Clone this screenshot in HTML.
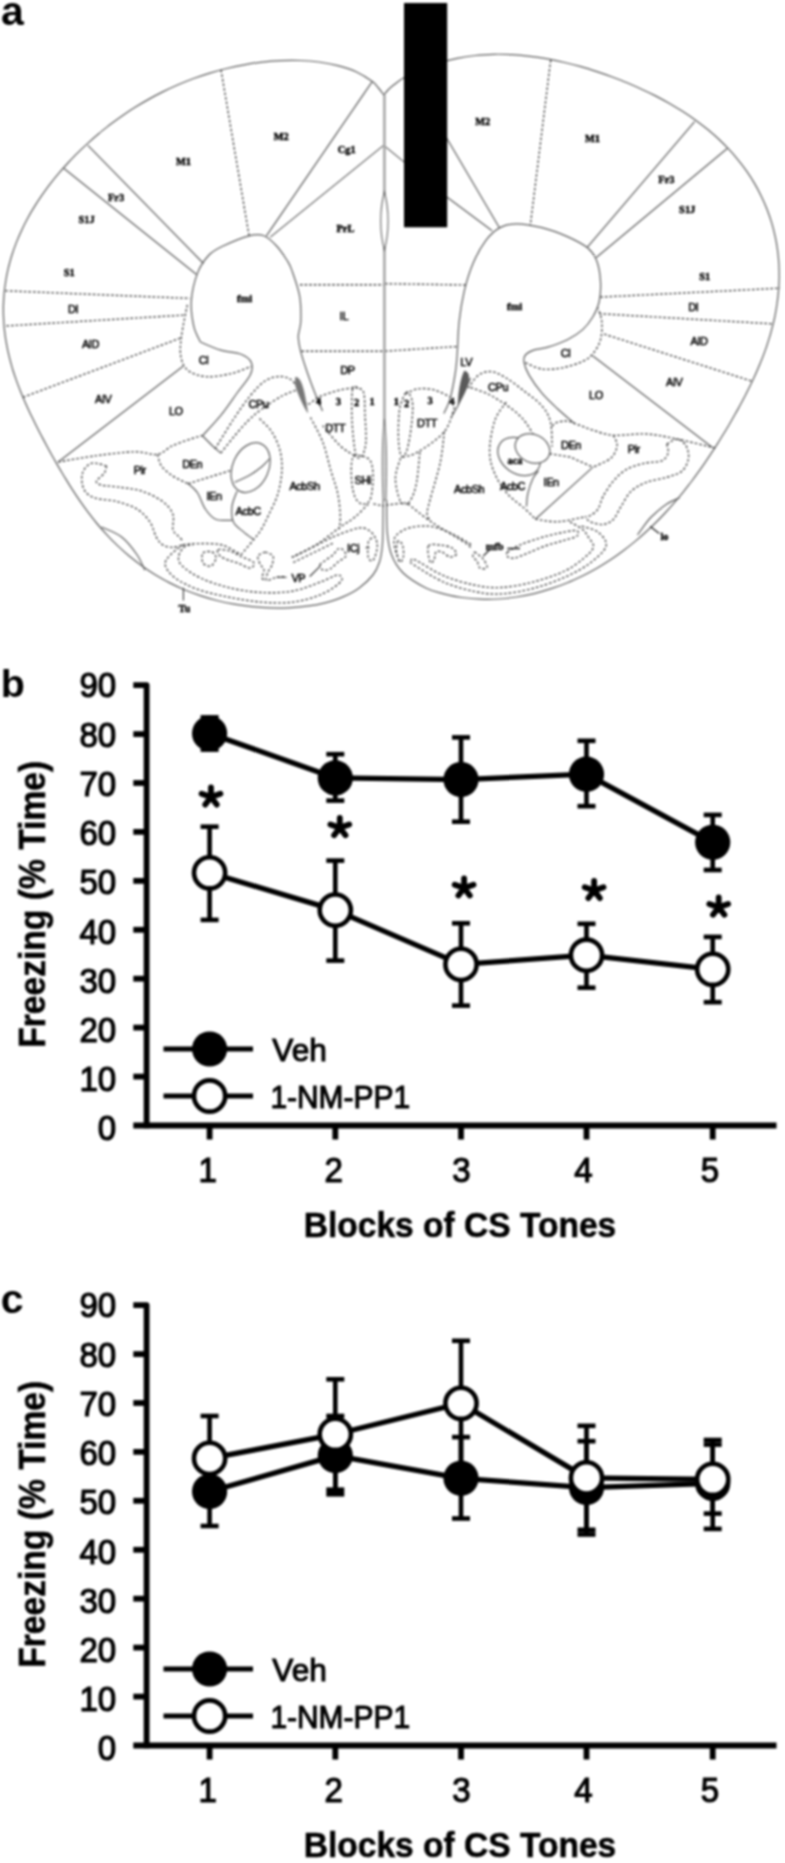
<!DOCTYPE html>
<html><head><meta charset="utf-8"><title>Figure</title>
<style>
html,body{margin:0;padding:0;background:#fff;}
body{width:785px;height:1863px;overflow:hidden;font-family:"Liberation Sans",sans-serif;}
svg{display:block;font-family:"Liberation Sans",sans-serif;filter:blur(0.8px);}
</style></head><body>
<svg width="785" height="1863" viewBox="0 0 785 1863">
<rect width="785" height="1863" fill="#fff"/>
<!-- panel a -->
<text x="1" y="25.2" font-size="41" font-weight="bold">a</text>
<defs><filter id="bb" x="-2%" y="-2%" width="104%" height="104%"><feGaussianBlur stdDeviation="0.5"/></filter></defs>
<g>
<g fill="none" stroke="#5e5e5e" stroke-width="1.22" stroke-linecap="butt" stroke-linejoin="round">
<path d="M383.8 95.0C382.9 93.8 380.4 90.2 378.5 88.0C376.6 85.8 376.1 84.3 372.4 81.6C368.7 78.9 361.9 74.4 356.1 71.7C350.3 69.0 344.0 67.2 337.8 65.6C331.6 64.0 325.2 62.9 318.9 62.0C312.6 61.2 306.1 60.7 299.8 60.5C293.4 60.2 287.1 60.3 280.8 60.6C274.6 60.9 268.4 61.4 262.2 62.1C256.1 62.8 250.1 63.7 244.2 64.8C238.2 65.8 232.4 67.1 226.7 68.5C220.9 69.9 215.3 71.4 209.8 73.1C204.3 74.8 198.9 76.6 193.6 78.5C188.3 80.5 183.1 82.6 178.0 84.7C172.9 86.9 168.0 89.2 163.2 91.6C158.3 94.0 153.6 96.5 149.0 99.1C144.4 101.6 139.9 104.3 135.5 107.1C131.1 109.8 126.9 112.6 122.7 115.5C118.5 118.4 114.5 121.3 110.5 124.3C106.6 127.4 102.7 130.4 99.0 133.5C95.2 136.7 91.6 139.8 88.0 143.1C84.5 146.3 81.0 149.6 77.7 152.9C74.3 156.2 71.1 159.6 67.9 163.0C64.7 166.4 61.7 169.9 58.7 173.4C55.7 176.9 52.8 180.5 50.0 184.1C47.2 187.7 44.6 191.4 42.0 195.1C39.4 198.8 36.9 202.6 34.6 206.4C32.2 210.2 29.9 214.1 27.8 218.0C25.7 221.9 23.6 225.9 21.8 229.9C19.9 233.9 18.1 238.0 16.5 242.1C14.9 246.2 13.4 250.4 12.1 254.5C10.7 258.7 9.6 263.0 8.5 267.2C7.5 271.4 6.6 275.7 5.9 280.0C5.2 284.3 4.6 288.6 4.2 292.9C3.8 297.2 3.5 301.5 3.4 305.8C3.3 310.1 3.4 314.4 3.6 318.7C3.8 322.9 4.1 327.2 4.6 331.4C5.1 335.6 5.7 339.8 6.5 343.9C7.2 348.0 8.1 352.1 9.1 356.2C10.0 360.2 11.2 364.2 12.3 368.2C13.5 372.1 14.8 376.0 16.2 379.9C17.5 383.7 19.0 387.5 20.5 391.3C22.0 395.0 23.6 398.8 25.2 402.5C26.8 406.1 28.5 409.8 30.2 413.4C32.0 417.0 33.7 420.6 35.5 424.2C37.3 427.8 39.1 431.4 41.0 435.0C42.9 438.6 44.8 442.1 46.7 445.7C48.6 449.3 50.6 452.9 52.6 456.5C54.6 460.1 56.7 463.7 58.8 467.4C61.0 471.0 63.1 474.7 65.4 478.4C67.6 482.1 69.9 485.8 72.4 489.6C74.8 493.3 77.3 497.1 79.9 500.9C82.5 504.6 85.2 508.4 88.0 512.2C90.9 516.0 93.8 519.7 96.9 523.5C100.0 527.2 103.3 530.9 106.7 534.6C110.0 538.3 113.6 541.9 117.3 545.4C121.0 548.9 124.8 552.4 128.9 555.8C132.9 559.1 137.0 562.4 141.4 565.5C145.7 568.6 150.2 571.7 154.8 574.5C159.5 577.3 164.3 580.1 169.2 582.6C174.1 585.1 179.2 587.5 184.4 589.7C189.6 591.8 194.9 593.8 200.3 595.6C205.7 597.4 211.3 599.1 216.9 600.5C222.6 601.9 228.3 603.1 234.1 604.2C239.9 605.2 245.8 606.0 251.8 606.7C257.8 607.3 263.8 607.7 269.9 607.9C276.0 608.1 282.1 608.1 288.3 607.8C294.4 607.6 300.7 607.1 306.8 606.2C313.0 605.4 319.2 604.3 325.2 602.8C331.2 601.2 337.3 599.4 342.9 596.9C348.6 594.4 354.2 591.6 359.2 587.9C364.2 584.3 369.5 579.3 372.9 575.0C376.3 570.7 377.9 566.8 379.5 562.0C381.1 557.2 381.7 552.3 382.3 546.0C382.9 539.7 382.9 531.7 383.0 524.0C383.1 516.3 383.2 504.0 383.2 500.0"/>
<path d="M383.8 95.0C384.5 94.2 386.5 91.6 388.0 90.0C389.5 88.4 390.3 87.7 393.0 85.6C395.7 83.5 399.5 80.2 404.2 77.5C408.9 74.8 415.5 71.8 421.3 69.4C427.0 67.0 433.0 64.8 438.9 62.9C444.9 61.1 451.0 59.6 457.1 58.3C463.2 57.1 469.4 56.2 475.5 55.5C481.6 54.8 487.8 54.5 493.9 54.3C500.1 54.2 506.2 54.3 512.2 54.7C518.2 55.0 524.2 55.5 530.1 56.3C536.0 57.0 541.8 57.9 547.6 58.9C553.3 60.0 559.0 61.2 564.6 62.5C570.1 63.8 575.6 65.2 581.0 66.7C586.4 68.2 591.7 69.9 596.9 71.6C602.1 73.3 607.2 75.1 612.3 77.0C617.3 78.9 622.3 80.8 627.1 82.8C632.0 84.9 636.8 87.0 641.6 89.2C646.3 91.3 651.0 93.6 655.5 95.9C660.1 98.3 664.6 100.7 669.1 103.2C673.5 105.8 677.8 108.4 682.1 111.1C686.3 113.8 690.5 116.6 694.6 119.5C698.6 122.4 702.6 125.5 706.5 128.6C710.4 131.7 714.1 135.0 717.8 138.3C721.4 141.7 724.9 145.1 728.3 148.7C731.7 152.3 734.9 156.0 738.0 159.8C741.1 163.5 744.0 167.4 746.8 171.4C749.6 175.4 752.2 179.5 754.6 183.6C757.1 187.8 759.3 192.1 761.4 196.4C763.5 200.7 765.4 205.1 767.1 209.5C768.8 213.9 770.4 218.4 771.7 222.9C773.1 227.4 774.2 232.0 775.2 236.6C776.2 241.1 777.0 245.7 777.6 250.3C778.2 254.8 778.6 259.4 778.9 264.0C779.1 268.5 779.2 273.1 779.2 277.5C779.1 282.0 778.9 286.5 778.5 290.9C778.2 295.3 777.6 299.7 777.0 304.0C776.4 308.3 775.6 312.6 774.8 316.8C773.9 320.9 772.9 325.1 771.8 329.1C770.8 333.2 769.6 337.2 768.3 341.1C767.1 345.0 765.8 348.9 764.4 352.6C763.0 356.4 761.5 360.2 760.0 363.8C758.5 367.5 757.0 371.1 755.4 374.6C753.8 378.2 752.1 381.6 750.5 385.1C748.8 388.5 747.1 391.9 745.4 395.3C743.6 398.6 741.9 402.0 740.1 405.3C738.3 408.5 736.5 411.8 734.6 415.0C732.8 418.3 730.9 421.5 729.1 424.7C727.2 427.9 725.3 431.1 723.3 434.3C721.4 437.5 719.4 440.7 717.4 443.9C715.3 447.1 713.3 450.2 711.2 453.4C709.1 456.6 706.9 459.8 704.7 463.1C702.5 466.3 700.2 469.5 697.9 472.7C695.6 476.0 693.2 479.2 690.7 482.5C688.2 485.7 685.7 489.0 683.0 492.3C680.4 495.5 677.7 498.8 674.8 502.1C672.0 505.4 669.1 508.7 666.0 512.0C663.0 515.2 659.9 518.5 656.6 521.8C653.3 525.1 649.9 528.3 646.4 531.5C642.9 534.8 639.2 538.0 635.4 541.1C631.6 544.3 627.7 547.4 623.6 550.4C619.5 553.5 615.3 556.5 610.9 559.4C606.5 562.3 602.0 565.1 597.3 567.9C592.6 570.6 587.8 573.2 582.8 575.7C577.8 578.1 572.7 580.5 567.4 582.7C562.1 584.9 556.7 586.9 551.2 588.7C545.6 590.5 540.0 592.2 534.2 593.6C528.4 595.0 522.5 596.1 516.6 597.0C510.7 597.9 504.6 598.6 498.5 599.0C492.4 599.3 486.3 599.4 480.2 599.1C474.0 598.9 467.9 598.3 461.8 597.5C455.7 596.6 449.5 595.4 443.6 593.8C437.6 592.2 432.7 591.5 425.9 588.0C419.1 584.5 408.6 578.2 402.9 572.7C397.2 567.2 394.1 561.6 391.5 554.8C388.9 548.0 388.0 541.0 387.2 531.9C386.4 522.8 386.7 505.3 386.6 500.0"/>
<path d="M87.9 145.4L203.5 263.5"/>
<path d="M63.7 168.3L196.5 274.5"/>
<path d="M372.2 81.7L266.4 235.8"/>
<path d="M383.6 145.4L270.3 237.1"/>
<path d="M183.4 365.9L58.2 462.0"/>
<path d="M200.4 342.0C203.8 343.4 214.0 348.1 220.8 350.2C227.6 352.2 236.0 352.3 241.1 354.3C246.2 356.3 249.8 359.0 251.3 362.4C252.8 365.8 252.7 369.6 250.3 374.7C247.9 379.8 242.0 386.2 237.1 393.0C232.2 399.8 226.6 408.3 220.8 415.4C215.0 422.5 205.5 432.4 202.4 435.8"/>
<path d="M200.4 342.0C199.3 339.4 195.3 333.2 193.8 326.4C192.3 319.6 190.7 309.9 191.3 301.0C191.9 292.1 194.7 280.6 197.6 272.9C200.5 265.2 204.8 259.5 209.0 255.0C213.2 250.5 216.4 249.2 223.1 246.0C229.8 242.8 242.3 237.5 249.1 235.8C255.9 234.1 259.3 234.1 263.9 235.8C268.5 237.5 272.8 242.0 276.6 246.0C280.4 250.0 284.2 255.9 286.8 260.0C289.4 264.1 289.8 264.4 291.9 270.4C294.0 276.4 298.1 287.4 299.6 295.9C301.1 304.4 301.0 314.5 300.8 321.3C300.6 328.1 298.3 331.5 298.3 336.6C298.3 341.7 299.3 345.9 300.8 351.9C302.3 357.8 304.9 365.5 307.2 372.3C309.5 379.1 312.2 386.2 314.8 392.7C317.4 399.1 321.2 407.9 322.5 411.0"/>
<path d="M202.4 435.8L212.6 446.0L220.8 453.1"/>
<path d="M237.1 491.1C236.2 493.7 232.6 501.3 232.0 506.4C231.4 511.5 231.4 517.5 233.3 521.7C235.2 526.0 240.1 528.9 243.5 531.9C246.9 534.9 252.0 538.3 253.7 539.6"/>
<path d="M234.6 482.4C237.2 481.2 245.4 477.6 250.0 475.0C254.6 472.4 258.7 469.2 262.0 466.5C265.3 463.8 268.5 459.9 269.8 458.6"/>
<path d="M188.2 483.7C189.8 485.2 194.8 488.8 197.6 493.0C200.4 497.2 202.3 504.6 205.3 509.0C208.3 513.4 211.1 517.3 215.5 519.2C219.9 521.1 229.2 520.2 232.0 520.4"/>
<path d="M101.5 527.0C104.9 528.7 116.0 532.5 121.9 537.2C127.9 541.9 133.4 549.5 137.2 555.0C141.0 560.5 143.5 567.8 144.8 570.3"/>
<path d="M436.0 120.0L499.7 228.2"/>
<path d="M383.8 145.4L447.5 197.6L492.1 230.7"/>
<path d="M694.6 121.6L587.0 247.6"/>
<path d="M727.5 148.2L596.0 257.8"/>
<path d="M592.6 355.7L712.4 447.5"/>
<path d="M443.8 413.6C444.9 411.1 448.3 405.1 450.2 398.3C452.1 391.5 454.1 380.5 455.3 372.9C456.5 365.3 456.7 361.0 457.3 352.5C457.9 344.0 458.0 332.1 459.1 321.9C460.2 311.7 461.9 301.1 464.2 291.3C466.5 281.5 469.5 271.8 473.1 263.3C476.7 254.8 481.4 246.4 485.9 240.4C490.4 234.4 494.8 230.4 499.9 227.6C505.0 224.8 509.4 223.8 516.4 223.8C523.4 223.8 533.4 225.5 541.9 227.6C550.4 229.7 559.8 233.2 567.4 236.6C575.0 240.0 582.9 244.0 587.8 248.0C592.7 252.0 594.6 255.3 596.7 260.8C598.8 266.3 600.1 274.3 600.5 281.1C600.9 287.9 600.5 295.6 599.2 301.5C597.9 307.4 595.6 312.1 592.9 316.8C590.1 321.5 587.0 325.8 582.7 329.6C578.5 333.4 573.4 336.7 567.4 339.7C561.4 342.7 552.5 345.7 547.0 347.4C541.5 349.1 537.9 348.6 534.3 349.9C530.7 351.2 527.1 352.9 525.4 355.0C523.7 357.1 523.5 359.3 524.1 362.7C524.7 366.1 526.2 370.3 529.2 375.4C532.2 380.5 537.2 387.7 541.9 393.2C546.6 398.7 551.7 403.4 557.2 408.5C562.7 413.6 572.0 421.4 575.0 424.0"/>
<path d="M470.6 378.0L457.8 406.0L452.0 416.0"/>
<path d="M526.5 506.4C526.7 504.3 526.7 498.4 527.8 493.7C528.9 489.0 531.1 482.2 532.9 478.4C534.7 474.6 537.6 472.2 538.5 471.0"/>
<path d="M535.4 519.2L592.9 467.1"/>
<path d="M679.6 497.7C677.5 498.8 671.5 500.9 666.8 504.1C662.1 507.3 655.8 512.5 651.5 516.8C647.2 521.0 643.6 526.6 641.3 529.6C639.0 532.6 638.1 534.1 637.5 535.0"/>
</g>
<g fill="none" stroke="#404040" stroke-width="1.35" stroke-dasharray="2.6 2">
<path d="M221.0 69.9L249.1 235.8"/>
<path d="M5.4 290.8L189.8 298.4"/>
<path d="M6.4 325.9L186.0 315.0"/>
<path d="M22.9 397.3L180.9 337.9"/>
<path d="M300.0 284.7L384.0 284.7"/>
<path d="M301.5 351.2L384.0 351.2"/>
<path d="M187.3 304.8C186.3 310.1 182.5 327.9 181.4 336.6C180.3 345.3 179.8 351.3 180.9 357.0C182.0 362.7 183.9 367.3 188.2 370.6C192.5 373.9 199.4 376.2 206.5 376.7C213.6 377.2 223.5 375.3 231.0 373.6C238.5 371.9 247.9 367.7 251.3 366.5"/>
<path d="M215.0 449.0C218.0 444.2 227.2 428.8 233.0 420.0C238.8 411.2 244.7 402.5 250.0 396.0C255.3 389.5 260.2 384.2 265.0 381.0C269.8 377.8 274.8 376.8 279.0 376.5C283.2 376.2 287.0 377.4 290.0 379.0C293.0 380.6 295.8 384.8 297.0 386.0"/>
<path d="M220.8 453.1C222.8 450.6 228.6 443.1 233.0 437.8C237.4 432.5 242.6 426.2 247.3 421.5C252.1 416.8 255.7 413.6 261.5 409.3C267.3 405.1 275.8 399.3 281.9 396.0C288.0 392.7 295.3 390.6 298.0 389.5"/>
<path d="M259.5 418.5C261.5 420.7 268.3 426.4 271.7 431.7C275.1 437.0 278.2 443.7 279.9 450.1C281.6 456.6 282.2 463.1 281.9 470.4C281.6 477.7 280.0 486.4 277.9 493.7C275.8 501.0 271.8 508.2 269.0 514.1C266.2 520.1 263.9 525.1 261.3 529.4C258.8 533.6 257.1 535.4 253.7 539.6C250.3 543.8 243.1 552.3 241.0 554.8"/>
<path d="M58.2 462.0C64.6 460.9 83.7 457.4 96.4 455.7C109.1 454.0 124.4 452.0 134.6 451.8C144.8 451.6 151.2 455.4 157.6 454.4C164.0 453.3 166.1 448.5 172.9 445.5C179.7 442.5 193.4 438.2 198.3 436.6C203.2 435.0 201.7 435.9 202.4 435.8"/>
<path d="M157.6 454.4C158.2 456.3 158.8 462.3 161.4 465.9C164.0 469.5 168.4 473.1 172.9 476.1C177.4 479.1 185.6 482.4 188.2 483.7"/>
<path d="M188.2 483.7L231.0 470.4"/>
<path d="M106.6 465.9C104.0 465.5 95.3 462.0 91.3 463.3C87.3 464.6 83.7 469.2 82.4 473.5C81.1 477.8 81.8 484.8 83.7 488.8C85.6 492.8 88.4 495.6 93.9 497.7C99.4 499.8 109.6 499.6 116.8 501.5C124.0 503.4 131.7 505.8 137.2 509.2C142.7 512.6 146.7 517.2 149.9 521.9C153.1 526.6 154.2 533.4 156.3 537.2C158.4 541.0 159.9 543.1 162.7 544.8C165.5 546.5 169.5 547.4 172.9 547.4C176.3 547.4 181.4 545.2 183.1 544.8"/>
<path d="M106.6 465.9C106.2 467.2 105.8 471.0 104.1 473.5C102.4 476.0 96.8 479.2 96.4 481.1C96.0 483.0 97.2 483.9 101.5 485.0C105.8 486.1 115.1 486.4 121.9 487.5C128.7 488.6 135.5 489.0 142.3 491.3C149.1 493.6 157.6 497.7 162.7 501.5C167.8 505.3 171.2 509.6 172.9 514.3C174.6 519.0 172.1 526.0 172.9 529.6C173.8 533.2 176.3 534.0 178.0 535.9C179.7 537.8 182.2 540.1 183.1 541.0"/>
<path d="M183.1 544.8C181.0 546.5 173.3 551.6 170.3 555.0C167.3 558.4 164.3 561.3 165.2 565.2C166.1 569.1 170.1 574.2 175.5 578.2C180.9 582.2 188.8 586.2 197.8 589.4C206.8 592.6 219.0 595.2 229.6 597.3C240.2 599.4 250.9 601.3 261.5 602.1C272.1 602.9 283.2 603.4 293.3 602.1C303.4 600.8 314.1 597.6 322.0 594.1C329.9 590.6 338.4 584.6 341.0 581.4C343.6 578.2 341.1 575.0 337.9 575.0C334.7 575.0 329.4 578.7 322.0 581.4C314.6 584.1 303.4 589.1 293.3 591.0C283.2 592.9 272.1 593.0 261.5 592.5C250.9 592.0 239.7 590.2 229.6 587.8C219.5 585.4 209.0 581.9 201.0 578.2C193.0 574.5 185.5 569.2 181.8 565.5C178.1 561.8 178.2 559.1 178.7 555.9C179.2 552.7 182.6 548.2 185.0 546.4C187.4 544.5 191.8 545.1 193.2 544.8"/>
<path d="M183.1 544.8C185.6 544.6 191.8 543.6 198.3 543.6C204.8 543.6 214.9 543.1 222.0 545.0C229.1 546.9 237.8 553.2 241.0 554.8"/>
<path d="M203.0 553.0C204.5 551.2 209.8 551.2 212.0 552.0C214.2 552.8 216.2 555.7 216.0 558.0C215.8 560.3 213.2 565.2 211.0 566.0C208.8 566.8 204.3 565.2 203.0 563.0C201.7 560.8 201.5 554.8 203.0 553.0Z"/>
<path d="M218.0 549.7C219.7 548.9 226.3 550.0 230.0 551.0C233.7 552.0 236.1 554.1 240.0 556.0C243.9 557.9 252.0 560.5 253.7 562.5C255.4 564.5 252.6 567.9 250.0 568.0C247.4 568.1 241.7 564.3 238.0 563.0C234.3 561.7 231.0 561.2 228.0 560.0C225.0 558.8 221.7 557.7 220.0 556.0C218.3 554.3 216.3 550.5 218.0 549.7Z"/>
<path d="M265.2 552.0C266.5 552.7 271.9 553.8 273.0 556.0C274.1 558.2 272.8 562.3 272.0 565.0C271.2 567.7 268.9 569.5 268.0 572.0C267.1 574.5 265.0 579.4 266.4 580.3C267.8 581.2 273.3 577.9 276.6 577.3C279.9 576.7 284.4 576.6 286.0 576.5"/>
<path d="M265.2 552.0C264.0 552.7 258.9 554.0 258.0 556.0C257.1 558.0 259.0 561.7 260.0 564.0C261.0 566.3 263.7 567.7 264.0 570.0C264.3 572.3 261.6 576.3 262.0 578.0C262.4 579.7 265.7 579.9 266.4 580.3"/>
<path d="M319.9 565.0C320.4 563.3 323.8 561.7 326.0 560.0C328.2 558.3 331.0 556.8 333.0 555.0C335.0 553.2 336.4 549.9 338.0 549.0C339.6 548.1 341.6 548.5 342.9 549.7C344.2 550.9 346.8 554.0 346.0 556.0C345.2 558.0 340.7 559.8 338.0 562.0C335.3 564.2 332.5 567.7 330.0 569.0C327.5 570.3 324.7 570.7 323.0 570.0C321.3 569.3 319.4 566.7 319.9 565.0Z"/>
<path d="M291.9 557.4L332.7 537.0"/>
<path d="M293.2 562.5L332.7 543.4"/>
<path d="M332.7 537.0C336.9 535.5 351.8 529.0 358.2 528.1C364.6 527.2 367.7 529.1 370.9 531.9C374.1 534.6 376.9 539.9 377.3 544.6C377.7 549.3 374.9 557.8 373.4 559.9C371.9 562.0 369.1 560.4 368.3 557.4C367.5 554.4 367.5 545.5 368.3 542.1C369.1 538.7 372.5 537.9 373.4 537.0"/>
<path d="M310.5 417.5C312.5 421.6 319.3 433.1 322.7 441.9C326.1 450.7 328.3 461.8 330.8 470.4C333.3 479.0 336.2 486.0 337.8 493.7C339.4 501.4 340.1 510.7 340.3 516.6C340.5 522.6 339.2 527.3 339.0 529.4"/>
<path d="M368.3 503.9C366.1 506.1 359.7 513.1 355.0 517.0C350.3 520.9 346.8 522.3 340.3 527.0C333.8 531.7 324.1 539.9 316.0 545.0C307.9 550.1 295.9 555.3 291.9 557.4"/>
<path d="M298.0 389.5C299.5 391.9 303.6 402.7 307.0 404.0C310.4 405.3 313.7 399.3 318.6 397.1C323.5 394.9 330.6 392.5 336.3 391.0C342.0 389.5 348.5 388.2 352.6 387.9C356.7 387.5 359.4 388.7 360.8 388.9"/>
<path d="M322.7 425.6C325.6 429.0 334.9 440.9 340.4 446.0C345.9 451.1 353.1 454.5 355.7 456.2"/>
<path d="M352.6 388.9C351.6 394.2 351.5 409.1 352.0 420.0C352.5 430.9 354.1 448.1 355.7 454.1C357.3 460.1 360.1 458.2 361.8 456.2C363.5 454.2 365.4 448.8 365.9 441.9C366.4 435.0 365.4 423.1 365.0 415.0C364.6 406.9 365.0 397.5 363.8 393.0C362.6 388.5 359.9 388.7 358.0 388.0C356.1 387.3 353.6 383.6 352.6 388.9Z"/>
<path d="M352.6 458.2C350.9 462.2 351.2 473.5 351.6 480.0C352.0 486.5 353.3 493.0 355.0 497.0C356.7 501.0 359.5 503.5 362.0 504.0C364.5 504.5 368.2 504.0 370.0 500.0C371.8 496.0 372.8 486.3 373.0 480.0C373.2 473.7 372.8 466.0 371.0 462.0C369.2 458.0 365.1 456.6 362.0 456.0C358.9 455.4 354.3 454.2 352.6 458.2Z"/>
<path d="M373.4 503.9L384.0 506.0"/>
<path d="M550.7 60.0L530.3 225.6"/>
<path d="M600.3 297.1L779.9 288.2"/>
<path d="M599.0 313.7L773.5 323.9"/>
<path d="M604.1 334.1L751.9 381.2"/>
<path d="M385.0 283.7L466.8 285.0"/>
<path d="M385.0 351.2L457.3 346.5"/>
<path d="M468.0 388.2C469.7 386.1 474.4 378.2 478.2 375.4C482.0 372.6 486.3 371.2 491.0 371.6C495.7 372.0 500.7 374.8 506.2 378.0C511.7 381.2 518.1 386.4 524.1 391.0C530.1 395.6 537.5 400.7 541.9 405.9C546.3 411.1 548.8 415.2 550.5 422.0C552.2 428.8 551.8 442.5 552.1 446.6"/>
<path d="M470.6 387.5C473.5 388.6 482.5 391.4 488.0 394.0C493.5 396.6 498.7 400.0 503.7 403.3C508.7 406.6 514.2 410.6 518.0 414.0C521.8 417.4 523.9 420.0 526.6 423.7C529.3 427.4 533.0 434.3 534.3 436.4"/>
<path d="M525.4 362.7C528.1 363.8 535.8 368.1 541.9 369.0C548.0 369.9 555.5 369.1 562.3 367.8C569.1 366.5 577.6 363.7 582.7 361.4C587.8 359.1 589.9 357.4 592.9 353.8C595.9 350.2 599.0 345.0 600.5 339.7C602.0 334.4 602.2 327.2 601.8 321.9C601.4 316.6 598.6 310.2 598.0 307.9"/>
<path d="M405.6 394.0C407.6 393.1 413.1 389.6 417.8 388.9C422.6 388.2 428.7 388.5 434.1 389.9C439.6 391.3 447.8 395.9 450.5 397.1"/>
<path d="M454.5 407.3C452.8 411.4 450.4 424.2 444.3 431.7C438.2 439.2 424.9 447.9 417.8 452.1C410.7 456.4 404.2 456.4 401.5 457.2"/>
<path d="M405.6 393.0C403.9 395.5 400.7 402.2 399.5 410.0C398.3 417.8 398.2 432.3 398.5 440.0C398.8 447.7 400.1 454.5 401.5 456.2C402.9 457.9 405.3 455.2 407.0 450.0C408.7 444.8 410.6 432.5 411.5 425.0C412.4 417.5 412.9 410.0 412.7 405.0C412.4 400.0 411.2 397.0 410.0 395.0C408.8 393.0 407.4 390.5 405.6 393.0Z"/>
<path d="M444.3 431.7C443.6 436.8 442.7 450.9 440.3 462.3C437.9 473.7 432.2 491.4 430.0 500.0C427.8 508.6 426.9 510.5 427.1 514.1C427.3 517.7 430.4 520.4 431.0 521.7"/>
<path d="M419.9 452.1C419.4 456.8 418.1 472.9 417.0 480.0C415.9 487.1 414.6 491.0 413.1 495.0C411.6 499.0 408.9 502.4 408.0 503.9"/>
<path d="M400.5 458.2C399.6 461.6 395.4 471.4 395.4 478.6C395.4 485.8 398.3 497.1 400.4 501.3C402.5 505.5 406.7 503.5 408.0 503.9"/>
<path d="M386.0 505.2L405.5 502.6"/>
<path d="M408.0 503.9C411.8 506.9 421.6 515.3 431.0 521.7C440.4 528.1 457.3 537.6 464.1 542.1C470.9 546.6 470.4 547.4 471.7 548.5"/>
<path d="M506.2 402.2C504.3 405.2 497.8 412.0 495.0 420.0C492.2 428.0 489.7 441.5 489.6 450.4C489.5 459.3 491.6 466.1 494.6 473.3C497.6 480.5 502.3 487.8 507.4 493.7C512.5 499.6 520.5 504.8 525.2 509.0C529.9 513.2 533.7 517.5 535.4 519.2"/>
<path d="M535.4 519.2C539.2 519.6 550.0 522.1 558.3 521.7C566.6 521.3 580.8 517.6 585.3 516.8"/>
<path d="M552.0 426.0C552.9 425.4 554.6 423.2 557.2 422.4C559.8 421.6 563.8 420.7 567.4 421.1C571.0 421.5 574.6 423.5 578.9 425.0C583.1 426.5 587.2 428.4 592.9 430.1C598.6 431.8 604.4 434.7 613.3 435.3C622.2 435.9 635.8 433.4 646.4 434.0C657.0 434.6 665.5 436.8 677.0 439.1C688.5 441.4 708.8 446.5 715.2 448.0"/>
<path d="M613.3 435.3C613.9 437.0 617.5 441.7 617.1 445.5C616.7 449.3 614.8 454.6 610.8 458.2C606.8 461.8 595.9 465.6 592.9 467.1"/>
<path d="M545.0 453.0L570.0 457.0L592.9 467.1"/>
<path d="M666.8 444.2C668.5 443.4 673.8 438.9 677.0 439.1C680.2 439.3 684.0 442.3 685.9 445.5C687.8 448.7 689.1 453.9 688.5 458.2C687.9 462.4 685.7 467.8 682.1 471.0C678.5 474.2 672.8 475.4 666.8 477.3C660.8 479.2 652.3 480.1 646.4 482.4C640.5 484.7 635.3 487.3 631.1 491.3C626.9 495.3 624.0 501.9 621.0 506.6C618.0 511.3 616.3 516.4 613.3 519.4C610.3 522.4 606.9 524.1 603.1 524.5C599.3 524.9 593.4 523.2 590.4 521.9C587.4 520.6 586.1 517.6 585.3 516.8"/>
<path d="M666.8 444.2C667.0 445.7 669.0 450.3 668.1 453.1C667.2 455.9 665.7 459.1 661.7 460.8C657.7 462.5 649.8 461.8 643.9 463.3C638.0 464.8 631.2 466.7 626.1 469.7C621.0 472.7 617.1 476.7 613.3 481.1C609.5 485.6 605.6 491.7 603.1 496.4C600.6 501.1 600.1 506.0 598.0 509.2C595.9 512.4 592.5 514.2 590.4 515.5C588.3 516.8 586.1 516.6 585.3 516.8"/>
<path d="M570.0 521.9C572.1 523.2 579.6 527.0 582.7 529.6C585.8 532.2 586.8 534.6 588.6 537.5C590.4 540.4 594.2 543.6 593.4 547.1C592.6 550.6 588.6 554.2 583.8 558.2C579.0 562.2 573.2 567.0 564.7 571.0C556.2 575.0 543.5 579.4 532.9 582.1C522.3 584.9 510.6 587.0 501.0 587.5C491.4 588.0 485.1 587.3 475.5 585.3C465.9 583.3 453.8 580.0 443.7 575.7C433.6 571.5 420.4 562.1 415.0 559.8C409.6 557.5 411.3 561.2 411.0 562.0C410.7 562.8 407.9 561.2 413.4 564.6C418.8 568.0 433.3 577.6 443.7 582.1C454.1 586.6 465.9 589.7 475.5 591.7C485.1 593.7 491.4 594.4 501.0 593.9C510.6 593.4 522.3 591.3 532.9 588.5C543.5 585.7 555.2 581.5 564.7 577.3C574.2 573.0 583.3 568.2 590.2 563.0C597.1 557.8 604.8 551.1 606.1 546.0C607.4 540.9 602.3 535.5 598.0 532.1C593.7 528.7 583.2 526.8 580.2 525.7"/>
<path d="M399.1 561.4C398.3 558.8 394.8 549.8 394.3 545.5C393.8 541.2 393.5 538.8 395.9 535.9C398.3 533.0 402.8 529.6 408.7 528.0C414.6 526.4 423.6 525.4 431.0 526.4C438.4 527.4 446.3 531.1 453.2 534.3C460.1 537.5 469.2 543.6 472.4 545.5"/>
<path d="M398.0 541.0C397.0 542.0 396.2 547.5 396.5 551.0C396.8 554.5 398.8 561.2 400.0 562.0C401.2 562.8 403.1 558.8 403.5 556.0C403.9 553.2 403.4 547.5 402.5 545.0C401.6 542.5 399.0 540.0 398.0 541.0Z"/>
<path d="M428.4 546.0C430.1 543.2 436.1 544.7 440.0 545.0C443.9 545.3 449.3 546.5 452.0 548.0C454.7 549.5 456.7 552.5 456.4 554.0C456.1 555.5 452.4 557.3 450.0 557.0C447.6 556.7 444.3 552.8 442.0 552.0C439.7 551.2 437.3 550.7 436.0 552.0C434.7 553.3 435.0 558.3 434.0 560.0C433.0 561.7 430.9 564.3 430.0 562.0C429.1 559.7 426.7 548.8 428.4 546.0Z"/>
<path d="M474.3 552.3C475.5 552.1 478.4 554.7 480.0 556.0C481.6 557.3 482.8 558.1 484.0 560.0C485.2 561.9 487.7 566.3 487.0 567.6C486.3 568.9 481.7 569.1 480.0 568.0C478.3 566.9 478.2 562.8 477.0 561.0C475.8 559.2 473.4 558.5 473.0 557.0C472.6 555.5 473.1 552.5 474.3 552.3Z"/>
<path d="M507.4 552.3C509.4 550.3 514.6 547.4 520.0 545.0C525.4 542.6 533.3 540.0 540.0 538.0C546.7 536.0 554.0 534.2 560.0 533.0C566.0 531.8 573.4 530.1 576.2 530.6C579.0 531.1 579.4 534.3 577.0 536.0C574.6 537.7 567.3 539.3 562.0 541.0C556.7 542.7 550.7 544.0 545.0 546.0C539.3 548.0 533.0 551.0 528.0 553.0C523.0 555.0 518.3 557.3 515.0 558.0C511.7 558.7 509.3 558.0 508.0 557.0C506.7 556.0 505.4 554.3 507.4 552.3Z"/>
</g>
<path d="M384.4 95V500" stroke="#a8a8a8" stroke-width="2.6" fill="none"/>
<path d="M384.4 192C379.5 210 379.5 232 384.4 250C389.3 232 389.3 210 384.4 192Z" stroke="#666" stroke-width="1.1" fill="#fff"/>
<path d="M384.4 419C381.8 440 381.8 470 383 500H386C387 470 387 440 384.4 419Z" stroke="#777" stroke-width="1" fill="#d0d0d0"/>
<g transform="rotate(24 250.6 467.6)"><ellipse cx="250.6" cy="467.6" rx="18" ry="26" fill="none" stroke="#5e5e5e" stroke-width="1.22"/></g>
<path d="M309.7 576.5L319.9 566.3M183.4 587.8V600.5M365.5 547.7h4M276.6 577.3h10" stroke="#333" stroke-width="1.1" fill="none"/>
<path d="M295.4 377.5C299.5 376 303 386 305 397C306.5 405 307.6 411 307.6 412.6C303.5 406 297 392 295.2 384Z" fill="#777" stroke="#777" stroke-width="0.6"/>
<path d="M464.4 371C468.5 371.5 470 377 468 384C466 391 461 400 458 404.5C458.3 396 460 380 464.4 371Z" fill="#5a5a5a" stroke="#5a5a5a" stroke-width="0.6"/>
<g transform="rotate(35 519 456.5)"><ellipse cx="519" cy="456.5" rx="23" ry="17" fill="#fff" stroke="#5e5e5e" stroke-width="1.22"/></g>
<g transform="rotate(25 532.5 448.5)"><ellipse cx="532.5" cy="448.5" rx="18" ry="14" fill="#fff" stroke="#5e5e5e" stroke-width="1.22"/></g>
<path d="M489.6 549.7L483.2 556.1M507.4 548.5H520M650.3 526.5L659.2 533.4" stroke="#222" stroke-width="1.3" fill="none"/>
<g fill="#000" text-anchor="middle">
<text x="183.4" y="164.6" font-family="Liberation Serif,serif" font-size="10.4" font-weight="bold" stroke="#000" stroke-width="0.45">M1</text>
<text x="116" y="200.6" font-family="Liberation Serif,serif" font-size="10.4" font-weight="bold" stroke="#000" stroke-width="0.45">Fr3</text>
<text x="86.6" y="223.3" font-family="Liberation Serif,serif" font-size="10.4" font-weight="bold" stroke="#000" stroke-width="0.45">S1J</text>
<text x="281.2" y="139.5" font-family="Liberation Serif,serif" font-size="10.4" font-weight="bold" stroke="#000" stroke-width="0.45">M2</text>
<text x="346.7" y="152.8" font-family="Liberation Serif,serif" font-size="10.4" font-weight="bold" stroke="#000" stroke-width="0.45">Cg1</text>
<text x="345.4" y="231.8" font-family="Liberation Serif,serif" font-size="10.4" font-weight="bold" stroke="#000" stroke-width="0.45">PrL</text>
<text x="69.3" y="276.0" font-family="Liberation Serif,serif" font-size="10.4" font-weight="bold" stroke="#000" stroke-width="0.45">S1</text>
<text x="73.1" y="313.3" font-size="11" letter-spacing="-0.45" stroke="#000" stroke-width="0.5">DI</text>
<text x="90.4" y="348.2" font-size="11" letter-spacing="-0.45" stroke="#000" stroke-width="0.5">AID</text>
<text x="103.2" y="403.2" font-size="11" letter-spacing="-0.45" stroke="#000" stroke-width="0.5">AIV</text>
<text x="175.8" y="414.7" font-size="11" letter-spacing="-0.45" stroke="#000" stroke-width="0.5">LO</text>
<text x="244.6" y="302.1" font-family="Liberation Serif,serif" font-size="10.4" font-weight="bold" stroke="#000" stroke-width="0.45">fmi</text>
<text x="344" y="320.4" font-size="11" letter-spacing="-0.45" stroke="#000" stroke-width="0.5">IL</text>
<text x="347.5" y="374.0" font-size="11" letter-spacing="-0.45" stroke="#000" stroke-width="0.5">DP</text>
<text x="203.4" y="363.8" font-size="11" letter-spacing="-0.45" stroke="#000" stroke-width="0.5">Cl</text>
<text x="258.5" y="407.6" font-size="11" letter-spacing="-0.45" stroke="#000" stroke-width="0.5">CPu</text>
<text x="192.2" y="467.7" font-size="11" letter-spacing="-0.45" stroke="#000" stroke-width="0.5">DEn</text>
<text x="304.5" y="490.4" font-size="11" letter-spacing="-0.45" stroke="#000" stroke-width="0.5">AcbSh</text>
<text x="214" y="499.9" font-size="11" letter-spacing="-0.45" stroke="#000" stroke-width="0.5">IEn</text>
<text x="248.1" y="514.9" font-size="11" letter-spacing="-0.45" stroke="#000" stroke-width="0.5">AcbC</text>
<text x="335.3" y="432.1" font-size="11" letter-spacing="-0.45" stroke="#000" stroke-width="0.5">DTT</text>
<text x="362.8" y="483.8" font-size="11" letter-spacing="-0.45" stroke="#000" stroke-width="0.5">SHi</text>
<text x="139.7" y="474.4" font-size="11" letter-spacing="-0.45" stroke="#000" stroke-width="0.5">Pir</text>
<text x="318.6" y="404.7" font-family="Liberation Serif,serif" font-size="10.4" font-weight="bold" stroke="#000" stroke-width="0.45">4</text>
<text x="338.3" y="404.7" font-family="Liberation Serif,serif" font-size="10.4" font-weight="bold" stroke="#000" stroke-width="0.45">3</text>
<text x="356.7" y="405.8" font-family="Liberation Serif,serif" font-size="10.4" font-weight="bold" stroke="#000" stroke-width="0.45">2</text>
<text x="372" y="404.7" font-family="Liberation Serif,serif" font-size="10.4" font-weight="bold" stroke="#000" stroke-width="0.45">1</text>
<text x="396.4" y="404.7" font-family="Liberation Serif,serif" font-size="10.4" font-weight="bold" stroke="#000" stroke-width="0.45">1</text>
<text x="406.6" y="406.8" font-family="Liberation Serif,serif" font-size="10.4" font-weight="bold" stroke="#000" stroke-width="0.45">2</text>
<text x="430.1" y="404.3" font-family="Liberation Serif,serif" font-size="10.4" font-weight="bold" stroke="#000" stroke-width="0.45">3</text>
<text x="452" y="404.9" font-family="Liberation Serif,serif" font-size="10.4" font-weight="bold" stroke="#000" stroke-width="0.45">4</text>
<text x="298.3" y="582.4" font-size="11" letter-spacing="-0.45" stroke="#000" stroke-width="0.5">VP</text>
<text x="353.1" y="551.9" font-size="11" letter-spacing="-0.45" stroke="#000" stroke-width="0.5">ICj</text>
<text x="184.3" y="612.2" font-family="Liberation Serif,serif" font-size="10.4" font-weight="bold" stroke="#000" stroke-width="0.45">Tu</text>
<text x="482.7" y="124.7" font-family="Liberation Serif,serif" font-size="10.4" font-weight="bold" stroke="#000" stroke-width="0.45">M2</text>
<text x="592.5" y="142.2" font-family="Liberation Serif,serif" font-size="10.4" font-weight="bold" stroke="#000" stroke-width="0.45">M1</text>
<text x="666.4" y="182.7" font-family="Liberation Serif,serif" font-size="10.4" font-weight="bold" stroke="#000" stroke-width="0.45">Fr3</text>
<text x="687.2" y="213.4" font-family="Liberation Serif,serif" font-size="10.4" font-weight="bold" stroke="#000" stroke-width="0.45">S1J</text>
<text x="704.7" y="280.4" font-family="Liberation Serif,serif" font-size="10.4" font-weight="bold" stroke="#000" stroke-width="0.45">S1</text>
<text x="693.3" y="310.7" font-size="11" letter-spacing="-0.45" stroke="#000" stroke-width="0.5">DI</text>
<text x="698.9" y="344.6" font-size="11" letter-spacing="-0.45" stroke="#000" stroke-width="0.5">AID</text>
<text x="674.2" y="386.4" font-size="11" letter-spacing="-0.45" stroke="#000" stroke-width="0.5">AIV</text>
<text x="596" y="399.4" font-size="11" letter-spacing="-0.45" stroke="#000" stroke-width="0.5">LO</text>
<text x="514.6" y="309.7" font-family="Liberation Serif,serif" font-size="10.4" font-weight="bold" stroke="#000" stroke-width="0.45">fmi</text>
<text x="565.6" y="357.2" font-size="11" letter-spacing="-0.45" stroke="#000" stroke-width="0.5">Cl</text>
<text x="466.2" y="366.1" font-size="11" letter-spacing="-0.45" stroke="#000" stroke-width="0.5">LV</text>
<text x="498.1" y="391.0" font-size="11" letter-spacing="-0.45" stroke="#000" stroke-width="0.5">CPu</text>
<text x="427" y="426.6" font-size="11" letter-spacing="-0.45" stroke="#000" stroke-width="0.5">DTT</text>
<text x="469.2" y="493.3" font-size="11" letter-spacing="-0.45" stroke="#000" stroke-width="0.5">AcbSh</text>
<text x="512.5" y="489.5" font-size="11" letter-spacing="-0.45" stroke="#000" stroke-width="0.5">AcbC</text>
<text x="551.2" y="485.6" font-size="11" letter-spacing="-0.45" stroke="#000" stroke-width="0.5">IEn</text>
<text x="515" y="464.2" font-family="Liberation Serif,serif" font-size="10.4" font-weight="bold" stroke="#000" stroke-width="0.45">aca</text>
<text x="571" y="448.7" font-size="11" letter-spacing="-0.45" stroke="#000" stroke-width="0.5">DEn</text>
<text x="633.7" y="453.2" font-size="11" letter-spacing="-0.45" stroke="#000" stroke-width="0.5">Pir</text>
<text x="494.6" y="549.5" font-family="Liberation Serif,serif" font-size="10.4" font-weight="bold" stroke="#000" stroke-width="0.45">mfb</text>
<text x="664.5" y="539.6" font-family="Liberation Serif,serif" font-size="10.4" font-weight="bold" stroke="#000" stroke-width="0.45">lo</text>
</g>
</g>
<rect x="404" y="3" width="43.2" height="224.3" fill="#000"/>
<!-- panel b -->
<g stroke="#000" stroke-width="5.8" fill="none" stroke-linecap="butt" stroke-linejoin="round">
<path d="M133.3 685.1 H146.6 V1128.2"/>
<path d="M133.3 1125.5 H776.5"/>
<path d="M133.3 1076.6 H147"/>
<path d="M133.3 1027.6 H147"/>
<path d="M133.3 978.7 H147"/>
<path d="M133.3 929.8 H147"/>
<path d="M133.3 880.9 H147"/>
<path d="M133.3 831.9 H147"/>
<path d="M133.3 783.0 H147"/>
<path d="M133.3 734.1 H147"/>
<path d="M209.6 1125.5 V1139.5"/>
<path d="M335.3 1125.5 V1139.5"/>
<path d="M461.0 1125.5 V1139.5"/>
<path d="M586.5 1125.5 V1139.5"/>
<path d="M712.7 1125.5 V1139.5"/>
</g>
<g font-size="35.2" fill="#000" stroke="#000" stroke-width="1.2">
<text transform="translate(116.20 1139.9) scale(0.94 1)" text-anchor="end">0</text>
<text transform="translate(116.20 1090.8) scale(0.94 1)" text-anchor="end">10</text>
<text transform="translate(116.20 1041.7) scale(0.94 1)" text-anchor="end">20</text>
<text transform="translate(116.20 992.6) scale(0.94 1)" text-anchor="end">30</text>
<text transform="translate(116.20 943.5) scale(0.94 1)" text-anchor="end">40</text>
<text transform="translate(116.20 894.4) scale(0.94 1)" text-anchor="end">50</text>
<text transform="translate(116.20 845.3) scale(0.94 1)" text-anchor="end">60</text>
<text transform="translate(116.20 796.2) scale(0.94 1)" text-anchor="end">70</text>
<text transform="translate(116.20 747.0) scale(0.94 1)" text-anchor="end">80</text>
<text transform="translate(116.20 696.6) scale(0.94 1)" text-anchor="end">90</text>
<text transform="translate(207.60 1182.1) scale(0.94 1)" text-anchor="middle">1</text>
<text transform="translate(333.70 1182.1) scale(0.94 1)" text-anchor="middle">2</text>
<text transform="translate(461.40 1182.1) scale(0.94 1)" text-anchor="middle">3</text>
<text transform="translate(583.40 1182.1) scale(0.94 1)" text-anchor="middle">4</text>
<text transform="translate(709.95 1182.1) scale(0.94 1)" text-anchor="middle">5</text>
</g>
<text transform="translate(460.0 1237.3) scale(0.945 1)" text-anchor="middle" font-size="35.5" font-weight="bold" stroke="#000" stroke-width="0.5">Blocks of CS Tones</text>
<text transform="translate(44.5 904.3) rotate(-90) scale(0.924 1)" text-anchor="middle" font-size="36.4" font-weight="bold" stroke="#000" stroke-width="0.5">Freezing (% Time)</text>
<text x="0.8" y="697.4" font-size="39.5" font-weight="bold">b</text>
<g stroke="#000" stroke-width="4.6" fill="none">
<path d="M209.6 717.4 V749.6"/>
<path d="M200.6 717.4 H218.6"/>
<path d="M200.6 749.6 H218.6"/>
<path d="M335.3 754.2 V800.6"/>
<path d="M326.3 754.2 H344.3"/>
<path d="M326.3 800.6 H344.3"/>
<path d="M461.0 737.4 V821.7"/>
<path d="M452.0 737.4 H470.0"/>
<path d="M452.0 821.7 H470.0"/>
<path d="M586.5 740.8 V806.2"/>
<path d="M577.5 740.8 H595.5"/>
<path d="M577.5 806.2 H595.5"/>
<path d="M712.7 814.9 V870.0"/>
<path d="M703.7 814.9 H721.7"/>
<path d="M703.7 870.0 H721.7"/>
</g>
<path d="M209.6 733.4 L335.3 777.9 L461.0 779.6 L586.5 774.2 L712.7 842.3" stroke="#000" stroke-width="5.3" fill="none" stroke-linejoin="round"/>
<circle cx="209.6" cy="733.4" r="17.6" fill="#000"/>
<circle cx="335.3" cy="777.9" r="17.6" fill="#000"/>
<circle cx="461.0" cy="779.6" r="17.6" fill="#000"/>
<circle cx="586.5" cy="774.2" r="17.6" fill="#000"/>
<circle cx="712.7" cy="842.3" r="17.6" fill="#000"/>
<g stroke="#000" stroke-width="4.6" fill="none">
<path d="M209.6 826.7 V919.9"/>
<path d="M200.6 826.7 H218.6"/>
<path d="M200.6 919.9 H218.6"/>
<path d="M335.3 860.6 V960.6"/>
<path d="M326.3 860.6 H344.3"/>
<path d="M326.3 960.6 H344.3"/>
<path d="M461.0 923.3 V1005.6"/>
<path d="M452.0 923.3 H470.0"/>
<path d="M452.0 1005.6 H470.0"/>
<path d="M586.5 923.8 V987.7"/>
<path d="M577.5 923.8 H595.5"/>
<path d="M577.5 987.7 H595.5"/>
<path d="M712.7 936.9 V1002.2"/>
<path d="M703.7 936.9 H721.7"/>
<path d="M703.7 1002.2 H721.7"/>
</g>
<path d="M209.6 872.8 L335.3 910.1 L461.0 964.4 L586.5 955.2 L712.7 969.3" stroke="#000" stroke-width="5.3" fill="none" stroke-linejoin="round"/>
<circle cx="209.6" cy="872.8" r="15.6" fill="#fff" stroke="#000" stroke-width="4.6"/>
<circle cx="335.3" cy="910.1" r="15.6" fill="#fff" stroke="#000" stroke-width="4.6"/>
<circle cx="461.0" cy="964.4" r="15.6" fill="#fff" stroke="#000" stroke-width="4.6"/>
<circle cx="586.5" cy="955.2" r="15.6" fill="#fff" stroke="#000" stroke-width="4.6"/>
<circle cx="712.7" cy="969.3" r="15.6" fill="#fff" stroke="#000" stroke-width="4.6"/>
<path d="M211 797.1 v-9.7 M211 797.1 l-9.4 -3.3 M211 797.1 l9.4 -3.3 M211 797.1 l-5.7 7.5 M211 797.1 l5.7 7.5" stroke="#000" stroke-width="5.8" fill="none" stroke-linecap="round"/>
<path d="M339.8 827.7 v-9.7 M339.8 827.7 l-9.4 -3.3 M339.8 827.7 l9.4 -3.3 M339.8 827.7 l-5.7 7.5 M339.8 827.7 l5.7 7.5" stroke="#000" stroke-width="5.8" fill="none" stroke-linecap="round"/>
<path d="M464.1 888.0 v-9.7 M464.1 888.0 l-9.4 -3.3 M464.1 888.0 l9.4 -3.3 M464.1 888.0 l-5.7 7.5 M464.1 888.0 l5.7 7.5" stroke="#000" stroke-width="5.8" fill="none" stroke-linecap="round"/>
<path d="M594.1 890.6 v-9.7 M594.1 890.6 l-9.4 -3.3 M594.1 890.6 l9.4 -3.3 M594.1 890.6 l-5.7 7.5 M594.1 890.6 l5.7 7.5" stroke="#000" stroke-width="5.8" fill="none" stroke-linecap="round"/>
<path d="M718.7 907.2 v-9.7 M718.7 907.2 l-9.4 -3.3 M718.7 907.2 l9.4 -3.3 M718.7 907.2 l-5.7 7.5 M718.7 907.2 l5.7 7.5" stroke="#000" stroke-width="5.8" fill="none" stroke-linecap="round"/>
<g stroke="#000" stroke-width="5" fill="none"><path d="M163.5 1049 H253"/><path d="M163.5 1096 H253"/></g>
<circle cx="209.6" cy="1049" r="17.6" fill="#000"/>
<circle cx="209.6" cy="1096" r="15.6" fill="#fff" stroke="#000" stroke-width="4.6"/>
<text transform="translate(272.3 1060.9) scale(0.993 1)" font-size="31.9" stroke="#000" stroke-width="1.05">Veh</text>
<text transform="translate(270.4 1108.4) scale(0.95 1)" font-size="31.5" stroke="#000" stroke-width="1.05">1-NM-PP1</text>
<!-- panel c -->
<g stroke="#000" stroke-width="5.8" fill="none" stroke-linecap="butt" stroke-linejoin="round">
<path d="M133.3 1305.1 H146.6 V1748.2"/>
<path d="M133.3 1745.5 H776.5"/>
<path d="M133.3 1696.6 H147"/>
<path d="M133.3 1647.6 H147"/>
<path d="M133.3 1598.7 H147"/>
<path d="M133.3 1549.8 H147"/>
<path d="M133.3 1500.8 H147"/>
<path d="M133.3 1451.9 H147"/>
<path d="M133.3 1403.0 H147"/>
<path d="M133.3 1354.1 H147"/>
<path d="M209.6 1745.5 V1759.5"/>
<path d="M335.3 1745.5 V1759.5"/>
<path d="M461.0 1745.5 V1759.5"/>
<path d="M586.5 1745.5 V1759.5"/>
<path d="M712.7 1745.5 V1759.5"/>
</g>
<g font-size="35.2" fill="#000" stroke="#000" stroke-width="1.2">
<text transform="translate(116.20 1759.9) scale(0.94 1)" text-anchor="end">0</text>
<text transform="translate(116.20 1710.8) scale(0.94 1)" text-anchor="end">10</text>
<text transform="translate(116.20 1661.7) scale(0.94 1)" text-anchor="end">20</text>
<text transform="translate(116.20 1612.6) scale(0.94 1)" text-anchor="end">30</text>
<text transform="translate(116.20 1563.5) scale(0.94 1)" text-anchor="end">40</text>
<text transform="translate(116.20 1514.3) scale(0.94 1)" text-anchor="end">50</text>
<text transform="translate(116.20 1465.3) scale(0.94 1)" text-anchor="end">60</text>
<text transform="translate(116.20 1416.2) scale(0.94 1)" text-anchor="end">70</text>
<text transform="translate(116.20 1367.0) scale(0.94 1)" text-anchor="end">80</text>
<text transform="translate(116.20 1316.6) scale(0.94 1)" text-anchor="end">90</text>
<text transform="translate(207.60 1802.1) scale(0.94 1)" text-anchor="middle">1</text>
<text transform="translate(333.70 1802.1) scale(0.94 1)" text-anchor="middle">2</text>
<text transform="translate(461.40 1802.1) scale(0.94 1)" text-anchor="middle">3</text>
<text transform="translate(583.40 1802.1) scale(0.94 1)" text-anchor="middle">4</text>
<text transform="translate(709.95 1802.1) scale(0.94 1)" text-anchor="middle">5</text>
</g>
<text transform="translate(460.0 1857.3) scale(0.945 1)" text-anchor="middle" font-size="35.5" font-weight="bold" stroke="#000" stroke-width="0.5">Blocks of CS Tones</text>
<text transform="translate(44.5 1524.3) rotate(-90) scale(0.924 1)" text-anchor="middle" font-size="36.4" font-weight="bold" stroke="#000" stroke-width="0.5">Freezing (% Time)</text>
<text x="0.8" y="1313.2" font-size="41" font-weight="bold">c</text>
<g stroke="#000" stroke-width="4.6" fill="none">
<path d="M209.6 1457.0 V1526.0"/>
<path d="M200.6 1457.0 H218.6"/>
<path d="M200.6 1526.0 H218.6"/>
<path d="M335.3 1416.0 V1494.3"/>
<path d="M326.3 1416.0 H344.3"/>
<path d="M326.3 1494.3 H344.3"/>
<path d="M461.0 1437.1 V1518.5"/>
<path d="M452.0 1437.1 H470.0"/>
<path d="M452.0 1518.5 H470.0"/>
<path d="M586.5 1441.2 V1534.5"/>
<path d="M577.5 1441.2 H595.5"/>
<path d="M577.5 1534.5 H595.5"/>
<path d="M712.7 1440.0 V1528.9"/>
<path d="M703.7 1440.0 H721.7"/>
<path d="M703.7 1528.9 H721.7"/>
</g>
<path d="M209.6 1491.5 L335.3 1455.6 L461.0 1478.3 L586.5 1487.6 L712.7 1483.4" stroke="#000" stroke-width="5.3" fill="none" stroke-linejoin="round"/>
<circle cx="209.6" cy="1491.5" r="17.6" fill="#000"/>
<circle cx="335.3" cy="1455.6" r="17.6" fill="#000"/>
<circle cx="461.0" cy="1478.3" r="17.6" fill="#000"/>
<circle cx="586.5" cy="1487.6" r="17.6" fill="#000"/>
<circle cx="712.7" cy="1483.4" r="17.6" fill="#000"/>
<g stroke="#000" stroke-width="4.6" fill="none">
<path d="M209.6 1416.0 V1500.0"/>
<path d="M200.6 1416.0 H218.6"/>
<path d="M200.6 1500.0 H218.6"/>
<path d="M335.3 1379.3 V1489.7"/>
<path d="M326.3 1379.3 H344.3"/>
<path d="M326.3 1489.7 H344.3"/>
<path d="M461.0 1340.8 V1465.8"/>
<path d="M452.0 1340.8 H470.0"/>
<path d="M452.0 1465.8 H470.0"/>
<path d="M586.5 1425.8 V1529.8"/>
<path d="M577.5 1425.8 H595.5"/>
<path d="M577.5 1529.8 H595.5"/>
<path d="M712.7 1444.6 V1513.6"/>
<path d="M703.7 1444.6 H721.7"/>
<path d="M703.7 1513.6 H721.7"/>
</g>
<path d="M209.6 1458.4 L335.3 1434.3 L461.0 1403.3 L586.5 1477.9 L712.7 1479.3" stroke="#000" stroke-width="5.3" fill="none" stroke-linejoin="round"/>
<circle cx="209.6" cy="1458.4" r="15.6" fill="#fff" stroke="#000" stroke-width="4.6"/>
<circle cx="335.3" cy="1434.3" r="15.6" fill="#fff" stroke="#000" stroke-width="4.6"/>
<circle cx="461.0" cy="1403.3" r="15.6" fill="#fff" stroke="#000" stroke-width="4.6"/>
<circle cx="586.5" cy="1477.9" r="15.6" fill="#fff" stroke="#000" stroke-width="4.6"/>
<circle cx="712.7" cy="1479.3" r="15.6" fill="#fff" stroke="#000" stroke-width="4.6"/>
<g stroke="#000" stroke-width="5" fill="none"><path d="M163.5 1669 H253"/><path d="M163.5 1716 H253"/></g>
<circle cx="209.6" cy="1669" r="17.6" fill="#000"/>
<circle cx="209.6" cy="1716" r="15.6" fill="#fff" stroke="#000" stroke-width="4.6"/>
<text transform="translate(272.3 1680.9) scale(0.993 1)" font-size="31.9" stroke="#000" stroke-width="1.05">Veh</text>
<text transform="translate(270.4 1728.4) scale(0.95 1)" font-size="31.5" stroke="#000" stroke-width="1.05">1-NM-PP1</text>
</svg>
</body></html>
